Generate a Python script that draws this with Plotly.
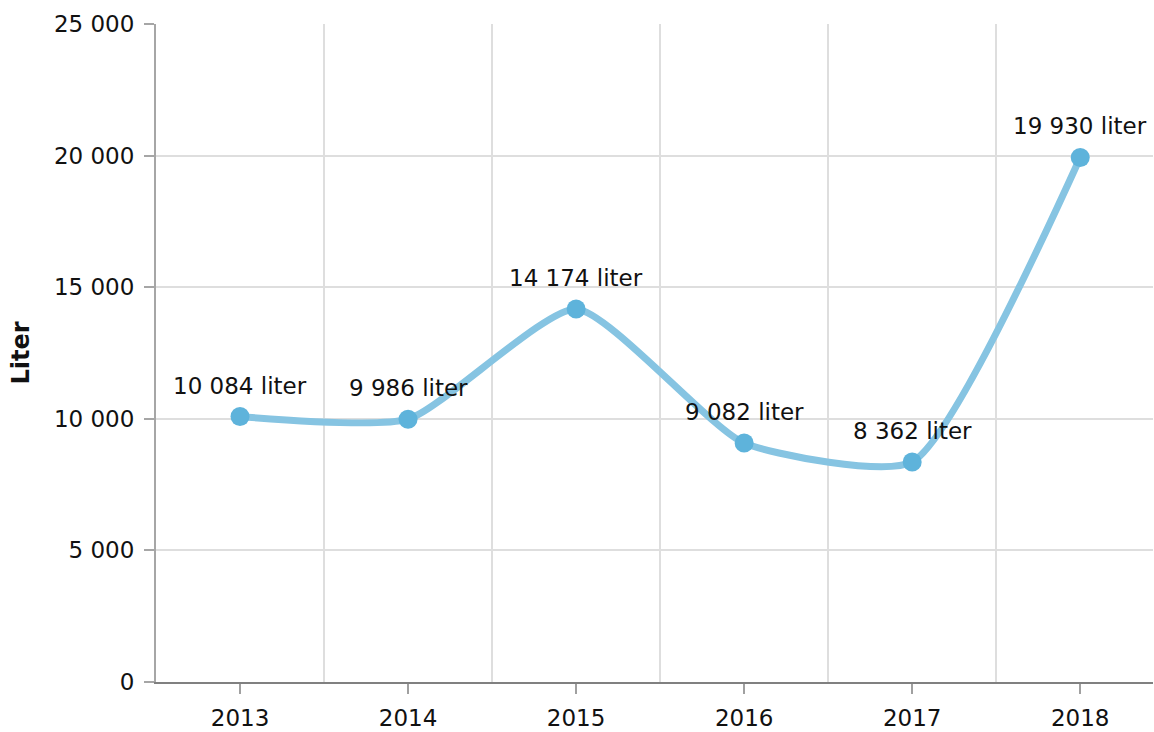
import plotly.graph_objects as go

years = [2013, 2014, 2015, 2016, 2017, 2018]
liters = [10084, 9986, 14174, 9082, 8362, 19930]
labels = ["10 084 liter", "9 986 liter", "14 174 liter", "9 082 liter", "8 362 liter", "19 930 liter"]
y_ticks = [0, 5000, 10000, 15000, 20000, 25000]
y_ticktext = ["0", "5 000", "10 000", "15 000", "20 000", "25 000"]

FONT = "DejaVu Sans, Verdana, sans-serif"

fig = go.Figure()
fig.add_trace(go.Scatter(
    x=years, y=liters, mode="lines+markers",
    line=dict(color="#86c4e2", width=7, shape="spline", smoothing=0.55),
    marker=dict(color="#5eb3db", size=19),
    hoverinfo="skip", showlegend=False, cliponaxis=False,
))
for x, y, t in zip(years, liters, labels):
    fig.add_annotation(x=x, y=y, text=t, showarrow=False, yanchor="bottom",
                       yshift=16, font=dict(family=FONT, size=23, color="#111"))

fig.update_layout(
    width=1154, height=732,
    margin=dict(l=156, r=1, t=24, b=50, autoexpand=False),
    plot_bgcolor="white", paper_bgcolor="white",
    font=dict(family=FONT, size=23, color="#111"),
)
fig.update_xaxes(
    range=[2012.5, 2018.433], tickvals=years, ticktext=[str(y) for y in years],
    showgrid=False, zeroline=False, showline=True, linecolor="#808080", linewidth=2,
    ticks="outside", ticklen=10, tickcolor="#a0a0a0", tickwidth=2,
    minor=dict(tick0=2012.5, dtick=1, showgrid=True, gridcolor="#dedede", gridwidth=1.5, ticklen=0),
    tickfont=dict(size=23), automargin=False, ticklabelstandoff=4,
)
fig.update_yaxes(
    range=[0, 25000], tickvals=y_ticks, ticktext=y_ticktext,
    showgrid=True, gridcolor="#dedede", gridwidth=1.5, zeroline=False,
    showline=True, linecolor="#a6a6a6", linewidth=2,
    ticks="outside", ticklen=10, tickcolor="#a6a6a6", tickwidth=2,
    tickfont=dict(size=23), automargin=False, ticklabelstandoff=5,
    title=dict(text="<b>Liter</b>", font=dict(size=24), standoff=18),
)
fig.write_html("out.html", config={"displayModeBar": False},
               post_script="document.body.style.margin='0';document.body.style.overflow='hidden';")
